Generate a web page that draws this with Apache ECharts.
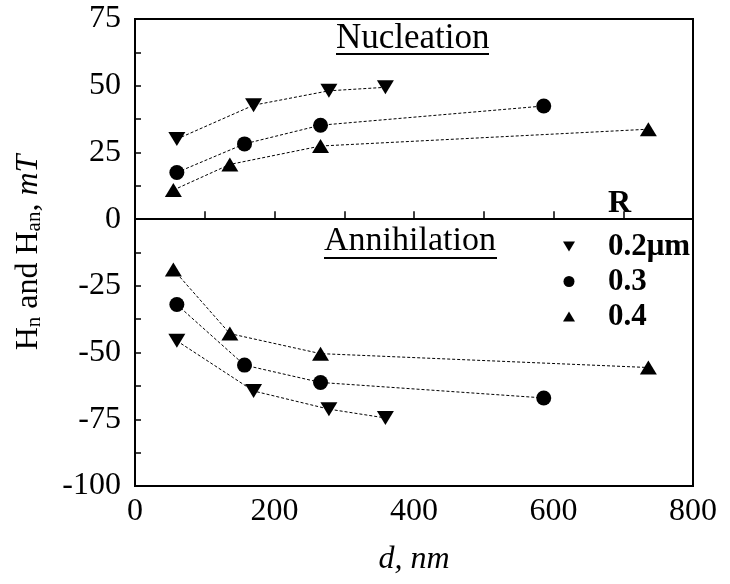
<!DOCTYPE html>
<html>
<head>
<meta charset="utf-8">
<script src="https://cdn.jsdelivr.net/npm/echarts@6/dist/echarts.min.js"></script>
<style>
  html, body { margin: 0; padding: 0; background: #fff; }
  #chart { width: 730px; height: 584px; }
</style>
</head>
<body>
<div id="chart"></div>
<script>
// 数据：直径 d (nm) 与成核场 / 湮灭场 (mT)，按 R 分组
const names = ['0.2μm', '0.3', '0.4']
const d02 = [60, 170, 278, 359]
const d03 = [60, 157, 266, 586]
const d04 = [55, 136, 266, 736]
const nuc02 = [30, 42.7, 48.1, 49.4]
const nuc03 = [17.5, 28.2, 35.2, 42.4]
const nuc04 = [10.9, 20.5, 27.4, 33.7]
const ann02 = [-45.6, -64.4, -71.2, -74.5]
const ann03 = [-32, -54.7, -61.2, -67]
const ann04 = [-18.9, -42.9, -50.4, -55.6]

const font = 'Liberation Serif, Times New Roman, serif'
const downTri = 'path://M0,0 L20,0 L10,17 Z'
const upTri = 'path://M10,0 L20,17 L0,17 Z'
const symbols = [downTri, 'circle', upTri]

const pairs = (xs, ys) => xs.map((x, i) => [x, ys[i]])

function makeSeries(name, data, symbol, size) {
  return {
    name: name,
    type: 'line',
    data: data,
    symbol: symbol,
    symbolSize: size,
    itemStyle: { color: '#000' },
    lineStyle: { color: '#000', width: 1, type: [3, 2] },
    animation: false
  }
}

const chart = echarts.init(document.getElementById('chart'))

chart.setOption({
  backgroundColor: '#fff',
  grid: {
    left: 135, right: 37, top: 19, bottom: 98,
    show: true, borderColor: '#000', borderWidth: 2
  },
  legend: {
    // 图例只显示符号，不画线
    data: names.map((n, i) => ({ name: n, icon: symbols[i] })),
    orient: 'vertical',
    left: 558,
    top: 226,
    itemWidth: 12,
    itemHeight: 11,
    itemGap: 4,
    textStyle: {
      fontFamily: font, fontSize: 31, fontWeight: 'bold', color: '#000',
      padding: [0, 0, 0, 28]
    }
  },
  xAxis: {
    type: 'value',
    min: 0, max: 800, interval: 200,
    name: 'd, nm',
    nameLocation: 'middle',
    nameGap: 58,
    nameTextStyle: { fontFamily: font, fontSize: 32, fontStyle: 'italic', color: '#000' },
    axisLine: { show: true, lineStyle: { color: '#000', width: 2 } },
    axisTick: { show: true, inside: true, length: 8, lineStyle: { color: '#000', width: 1.5 } },
    minorTick: { show: true, splitNumber: 2, length: 8, lineStyle: { color: '#000', width: 1.5 } },
    splitLine: { show: false },
    axisLabel: { fontFamily: font, fontSize: 32, color: '#000', margin: 10 }
  },
  yAxis: {
    type: 'value',
    min: -100, max: 75, interval: 25,
    name: '{a|H}{s|n}{a| and H}{s|an}{a|, }{i|mT}',
    nameLocation: 'middle',
    nameRotate: 90,
    nameGap: 90,
    nameTextStyle: {
      rich: {
        a: { fontFamily: font, fontSize: 32, color: '#000' },
        s: { fontFamily: font, fontSize: 21, color: '#000', verticalAlign: 'bottom', padding: [12, 0, 0, 0] },
        i: { fontFamily: font, fontSize: 32, fontStyle: 'italic', color: '#000' }
      }
    },
    axisLine: { show: true, onZero: false, lineStyle: { color: '#000', width: 2 } },
    axisTick: { show: true, inside: true, length: 6, lineStyle: { color: '#000', width: 1.5 } },
    minorTick: { show: true, splitNumber: 2, length: 6, lineStyle: { color: '#000', width: 1.5 } },
    splitLine: { show: false },
    axisLabel: { fontFamily: font, fontSize: 32, color: '#000', margin: 14 }
  },
  graphic: [
    { type: 'text', left: 336, top: 21, style: { text: 'Nucleation', font: '35px ' + font, fill: '#000' } },
    { type: 'line', shape: { x1: 336, y1: 54, x2: 489, y2: 54 }, style: { stroke: '#000', lineWidth: 2 } },
    { type: 'text', left: 324, top: 224, style: { text: 'Annihilation', font: '34px ' + font, fill: '#000' } },
    { type: 'line', shape: { x1: 324, y1: 258, x2: 497, y2: 258 }, style: { stroke: '#000', lineWidth: 2 } },
    { type: 'text', left: 608, top: 188, style: { text: 'R', font: 'bold 32px ' + font, fill: '#000' } }
  ],
  series: [
    Object.assign(makeSeries(names[0], pairs(d02, nuc02), downTri, [17, 14]), {
      markLine: {
        silent: true, symbol: 'none', label: { show: false },
        lineStyle: { color: '#000', width: 2, type: 'solid' },
        data: [{ yAxis: 0 }]
      }
    }),
    makeSeries(names[1], pairs(d03, nuc03), 'circle', 15),
    makeSeries(names[2], pairs(d04, nuc04), upTri, [17, 14]),
    makeSeries(names[0], pairs(d02, ann02), downTri, [17, 14]),
    makeSeries(names[1], pairs(d03, ann03), 'circle', 15),
    makeSeries(names[2], pairs(d04, ann04), upTri, [17, 14])
  ]
})
</script>
</body>
</html>
